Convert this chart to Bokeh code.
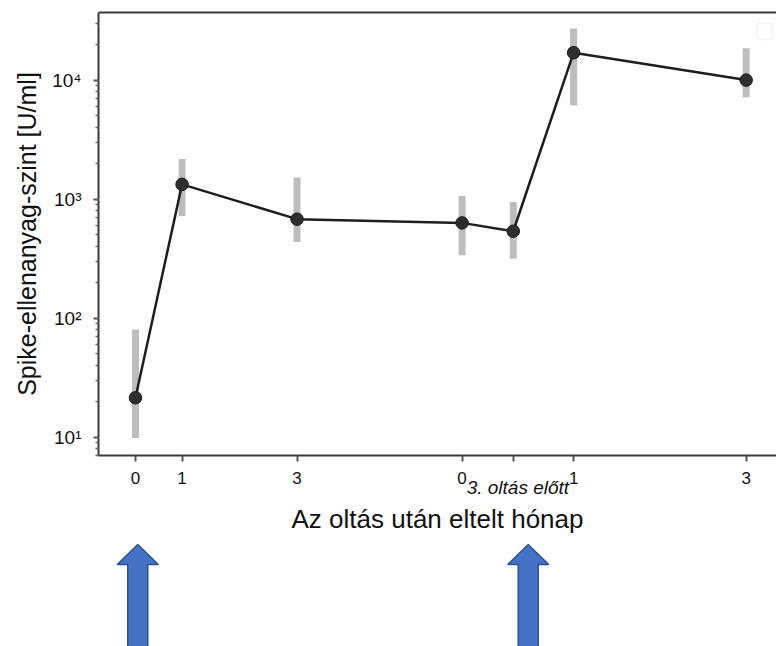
from bokeh.plotting import figure
from bokeh.models import (Range1d, FixedTicker, LinearAxis, BoxAnnotation,
                          ColumnDataSource, LogTicker, Title)
from bokeh.layouts import column
from bokeh.embed import file_html
from bokeh.resources import INLINE

# ---- data ----
x_pos = [0.0, 0.81, 2.81, 5.68, 6.57, 7.62, 10.62]
x_labels = ["0", "1", "3", "0", "", "1", "3"]
antibody_mean = [21.4, 1330, 678, 631, 537, 17000, 10000]
antibody_low = [9.8, 722, 436, 337, 316, 6160, 7160]
antibody_high = [80, 2170, 1520, 1064, 946, 27200, 18500]
y_ticks = [10, 100, 1000, 10000]
y_tick_labels = ["10¹", "10²", "10³", "10⁴"]
dose_x = [0.04, 6.83]            # vaccination arrows
pre_third_index = 4
pre_third_label = "3. oltás előtt"
x_title = "Az oltás után eltelt hónap"
y_title = "Spike-ellenanyag-szint [U/ml]"

FONT = "Liberation Sans"
AX = "#3a3a3a"
TXT = "#111111"

src = ColumnDataSource(dict(x=x_pos, m=antibody_mean, lo=antibody_low, hi=antibody_high))

p = figure(frame_width=678, frame_height=443, y_axis_type="log",
           x_range=Range1d(-0.643, 11.148), y_range=Range1d(7.0, 37000),
           min_border_left=98, min_border_right=0, min_border_top=12, min_border_bottom=81,
           toolbar_location=None, output_backend="svg",
           background_fill_color="white", border_fill_color="white")
p.outline_line_color = None
p.xgrid.visible = False
p.ygrid.visible = False

# error bars, line, points
p.segment(x0="x", y0="lo", x1="x", y1="hi", source=src, line_width=7,
          line_color="#bdbdbd", line_cap="butt")
p.line(x="x", y="m", source=src, line_width=2.5, line_color="#1e1e1e")
p.scatter(x="x", y="m", source=src, size=12.5, fill_color="#2e2e2e", line_color="#1a1a1a")

# x axis (month ticks)
xa = p.xaxis[0]
xa.ticker = FixedTicker(ticks=x_pos, minor_ticks=[])
xa.major_label_overrides = {x: l for x, l in zip(x_pos, x_labels)}
xa.major_label_text_font = FONT
xa.major_label_text_font_size = "17px"
xa.major_label_text_color = TXT
xa.major_label_standoff = 10
xa.axis_line_color = AX
xa.axis_line_width = 2
xa.major_tick_line_color = "#555555"
xa.major_tick_line_width = 2
xa.major_tick_out = 6
xa.major_tick_in = 0
xa.minor_tick_line_color = None

# second, unlined axis carrying the italic "3. oltás előtt" and the x title
label_x = x_pos[pre_third_index] + 0.08
xa2 = LinearAxis(ticker=FixedTicker(ticks=[label_x], minor_ticks=[]),
                 major_label_overrides={label_x: pre_third_label},
                 axis_line_color=None, major_tick_line_color=None, minor_tick_line_color=None,
                 major_tick_out=0, major_tick_in=0, minor_tick_out=0, minor_tick_in=0,
                 major_label_standoff=-10,
                 major_label_text_font=FONT, major_label_text_font_style="italic",
                 major_label_text_font_size="19px", major_label_text_color=TXT,
                 axis_label=x_title, axis_label_text_font=FONT,
                 axis_label_text_font_style="normal", axis_label_text_font_size="26px",
                 axis_label_text_color=TXT, axis_label_standoff=3)
p.add_layout(xa2, "below")

# y axis
ya = p.yaxis[0]
ya.ticker = LogTicker(num_minor_ticks=10)
ya.major_label_overrides = {v: l for v, l in zip(y_ticks, y_tick_labels)}
ya.major_label_text_font = FONT
ya.major_label_text_font_size = "19px"
ya.major_label_text_color = TXT
ya.major_label_standoff = 12
ya.axis_line_color = AX
ya.axis_line_width = 2
ya.major_tick_line_color = "#555555"
ya.major_tick_line_width = 2
ya.major_tick_out = 5
ya.major_tick_in = 0
ya.minor_tick_line_color = "#666666"
ya.minor_tick_line_width = 1.5
ya.minor_tick_out = 3
ya.minor_tick_in = 0

# y title (as a side title so it can be nudged to the reference position)
p.add_layout(Title(text=y_title, align="center", offset=-20, standoff=18,
                   text_font=FONT, text_font_style="normal", text_font_size="25px",
                   text_color=TXT), "left")

# top frame line
top = LinearAxis(ticker=FixedTicker(ticks=[]), axis_line_color=AX, axis_line_width=2,
                 major_tick_line_color=None, minor_tick_line_color=None,
                 major_tick_out=0, minor_tick_out=0, major_label_standoff=0,
                 major_label_text_font_size="0px")
p.add_layout(top, "above")

# empty legend frame in the upper right corner (as in the reference)
p.add_layout(BoxAnnotation(left=658, right=674, top=432, bottom=416,
                           left_units="screen", right_units="screen",
                           top_units="screen", bottom_units="screen",
                           fill_color="white", fill_alpha=1.0,
                           line_color="#d8d8d8", line_width=1.5, border_radius=3))

# arrows panel (vaccination doses)
p2 = figure(frame_width=678, frame_height=110, x_range=p.x_range,
            y_range=Range1d(0, 110), min_border_left=98, min_border_right=0,
            min_border_top=0, min_border_bottom=0,
            toolbar_location=None, output_backend="svg")
p2.axis.visible = False
p2.grid.visible = False
p2.outline_line_color = None

SHAFT = 0.174
HEAD = 0.357
xs, ys = [], []
for c in dose_x:
    xs.append([c - SHAFT, c - SHAFT, c - HEAD, c, c + HEAD, c + SHAFT, c + SHAFT])
    ys.append([-20, 82, 82, 102, 82, 82, -20])
p2.patches(xs, ys, fill_color="#4472c4", line_color="#2f528f", line_width=1.5)

layout = column(p, p2, spacing=0)
open("out.html", "w").write(file_html(layout, INLINE))
